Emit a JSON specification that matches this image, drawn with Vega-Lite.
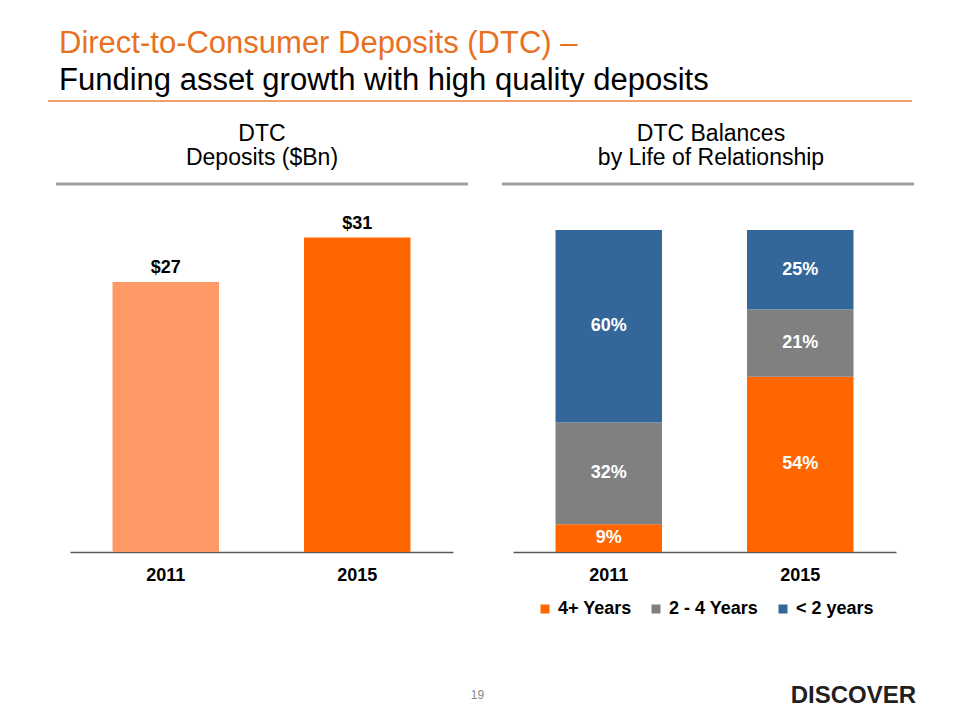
{
  "$schema": "https://vega.github.io/schema/vega-lite/v6.json",
  "background": "white",
  "padding": {"left": 47, "top": 27, "right": 0, "bottom": 0},
  "spacing": 5,
  "config": {
    "view": {"stroke": null},
    "font": "Liberation Sans",
    "axis": {"domainColor": "#595959", "domainWidth": 1.3, "ticks": false, "grid": false, "labelFontSize": 18, "labelFontWeight": "bold", "labelColor": "#000000", "labelPadding": 14, "labelAngle": 0, "title": null},
    "legend": {"layout": {"bottom": {"anchor": "middle"}}},
    "title": {"font": "Liberation Sans", "fontWeight": "normal"}
  },
  "vconcat": [
    {
      "width": 864,
      "height": 17,
      "data": {"values": [{}]},
      "title": {
        "text": "Direct-to-Consumer Deposits (DTC) –",
        "subtitle": "Funding asset growth with high quality deposits",
        "anchor": "start",
        "dx": 12,
        "fontSize": 31,
        "subtitleFontSize": 31,
        "fontWeight": "normal",
        "color": "#E8711F",
        "subtitleColor": "#000000",
        "subtitleFont": "Liberation Sans",
        "subtitlePadding": 6.5,
        "offset": 3
      },
      "mark": {"type": "rule", "color": "#F0A070", "strokeWidth": 2},
      "encoding": {"y": {"datum": 1, "type": "quantitative", "scale": {"domain": [0, 1]}, "axis": null}}
    },
    {
      "hconcat": [
        {
          "width": 5.5, "height": 1, "data": {"values": [{}]},
          "mark": {"type": "rule", "opacity": 0, "strokeWidth": 0},
          "encoding": {"y": {"datum": 1, "type": "quantitative", "scale": {"domain": [0, 1]}, "axis": null}}
        },
        {
          "width": 412,
          "height": 3,
          "data": {"values": [{}]},
          "title": {"text": ["DTC", "Deposits ($Bn)"], "anchor": "middle", "fontSize": 23, "lineHeight": 24.4, "color": "#000000", "offset": 12},
          "mark": {"type": "rule", "color": "#A0A0A0", "strokeWidth": 3},
          "encoding": {"y": {"datum": 1, "type": "quantitative", "scale": {"domain": [0, 1]}, "axis": null}}
        },
        {
          "width": 30, "height": 1, "data": {"values": [{}]},
          "mark": {"type": "rule", "opacity": 0, "strokeWidth": 0},
          "encoding": {"y": {"datum": 1, "type": "quantitative", "scale": {"domain": [0, 1]}, "axis": null}}
        },
        {
          "width": 412,
          "height": 3,
          "data": {"values": [{}]},
          "title": {"text": ["DTC Balances", "by Life of Relationship"], "anchor": "middle", "dx": 3, "fontSize": 23, "lineHeight": 24.4, "color": "#000000", "offset": 12},
          "mark": {"type": "rule", "color": "#A0A0A0", "strokeWidth": 3},
          "encoding": {"y": {"datum": 1, "type": "quantitative", "scale": {"domain": [0, 1]}, "axis": null}}
        }
      ],
      "spacing": 0
    },
    {
      "hconcat": [
        {
          "width": 22, "height": 1, "data": {"values": [{}]},
          "mark": {"type": "rule", "opacity": 0, "strokeWidth": 0},
          "encoding": {"y": {"datum": 1, "type": "quantitative", "scale": {"domain": [0, 1]}, "axis": null}}
        },
        {
          "width": 383,
          "height": 360,
          "data": {"values": [
            {"year": "2011", "deposits": 26.7},
            {"year": "2015", "deposits": 31.1}
          ]},
          "encoding": {
            "x": {"field": "year", "type": "nominal", "scale": {"paddingInner": 0.444, "paddingOuter": 0.222}},
            "y": {"field": "deposits", "type": "quantitative", "scale": {"domain": [0, 35.6], "nice": false}, "axis": null}
          },
          "layer": [
            {
              "mark": {"type": "bar"},
              "encoding": {"fill": {"field": "year", "type": "nominal", "scale": {"domain": ["2011", "2015"], "range": ["#FF9966", "#FF6600"]}, "legend": null}}
            },
            {
              "mark": {"type": "text", "dy": -9, "baseline": "alphabetic", "fontSize": 18, "fontWeight": "bold", "color": "#000000"},
              "encoding": {"text": {"field": "deposits", "type": "quantitative", "format": "$.0f"}}
            }
          ]
        },
        {
          "width": 60, "height": 1, "data": {"values": [{}]},
          "mark": {"type": "rule", "opacity": 0, "strokeWidth": 0},
          "encoding": {"y": {"datum": 1, "type": "quantitative", "scale": {"domain": [0, 1]}, "axis": null}}
        },
        {
          "width": 383,
          "height": 360,
          "data": {"values": [
            {"year": "2011", "group": "4+ Years", "rank": 1, "share": 0.086},
            {"year": "2011", "group": "2 - 4 Years", "rank": 2, "share": 0.316},
            {"year": "2011", "group": "< 2 years", "rank": 3, "share": 0.598},
            {"year": "2015", "group": "4+ Years", "rank": 1, "share": 0.544},
            {"year": "2015", "group": "2 - 4 Years", "rank": 2, "share": 0.209},
            {"year": "2015", "group": "< 2 years", "rank": 3, "share": 0.247}
          ]},
          "encoding": {
            "x": {"field": "year", "type": "nominal", "scale": {"paddingInner": 0.444, "paddingOuter": 0.222}},
            "order": {"field": "rank", "type": "quantitative"}
          },
          "layer": [
            {
              "mark": {"type": "bar"},
              "encoding": {
                "y": {"field": "share", "type": "quantitative", "stack": "zero", "scale": {"domain": [0, 1.118], "nice": false}, "axis": null},
                "color": {
                  "field": "group", "type": "nominal",
                  "scale": {"domain": ["4+ Years", "2 - 4 Years", "< 2 years"], "range": ["#FF6600", "#808080", "#336699"]},
                  "legend": {"orient": "bottom", "direction": "horizontal", "title": null, "symbolType": "square", "symbolSize": 81, "symbolStrokeWidth": 0, "symbolOpacity": 1, "labelFontSize": 18, "labelFontWeight": "bold", "labelColor": "#000000", "labelOffset": 4, "columnPadding": 15, "offset": 16}
                }
              }
            },
            {
              "mark": {"type": "text", "color": "#FFFFFF", "fontSize": 18, "fontWeight": "bold", "baseline": "middle"},
              "encoding": {
                "y": {"field": "share", "type": "quantitative", "stack": "zero", "bandPosition": 0.5},
                "detail": {"field": "group", "type": "nominal"},
                "text": {"field": "share", "type": "quantitative", "format": ".0%"}
              }
            }
          ]
        }
      ],
      "spacing": 0,
      "resolve": {"scale": {"color": "independent", "fill": "independent"}, "legend": {"color": "independent", "fill": "independent"}}
    },
    {
      "hconcat": [
        {
          "width": 726,
          "height": 65,
          "data": {"values": [{}]},
          "title": {"text": "19", "orient": "bottom", "anchor": "middle", "dx": 66.5, "fontSize": 12, "color": "#888888", "offset": 1.5},
          "mark": {"type": "rule", "opacity": 0, "strokeWidth": 0},
          "encoding": {"y": {"datum": 1, "type": "quantitative", "scale": {"domain": [0, 1]}, "axis": null}}
        },
        {
          "width": 138,
          "height": 60,
          "data": {"values": [{}]},
          "title": {"text": "DISCOVER", "orient": "bottom", "anchor": "end", "dx": 4, "fontSize": 24, "fontWeight": "bold", "color": "#231F20", "offset": 1},
          "mark": {"type": "rule", "opacity": 0, "strokeWidth": 0},
          "encoding": {"y": {"datum": 1, "type": "quantitative", "scale": {"domain": [0, 1]}, "axis": null}}
        }
      ],
      "spacing": 0
    }
  ]
}
